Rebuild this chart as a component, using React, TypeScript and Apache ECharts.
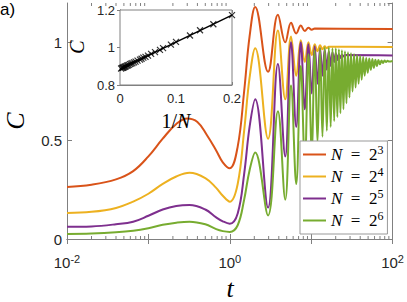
import React, { useEffect, useRef } from 'react';
import * as echarts from 'echarts';

// ---- main plot data: [t, C] ----
const seriesNames = ['N = 2^3', 'N = 2^4', 'N = 2^5', 'N = 2^6'];
const seriesExps = [3, 4, 5, 6];
const seriesColors = ['#D95319', '#EDB120', '#7E2F8E', '#77AC30'];

const dataN8 = [
  [0.01, 0.265], [0.02, 0.276], [0.04, 0.303], [0.065, 0.345], [0.1, 0.42], [0.15, 0.51], [0.22, 0.585],
  [0.3, 0.613], [0.4, 0.595], [0.52, 0.53], [0.68, 0.45], [0.82, 0.39], [1.0, 0.36], [1.25, 0.47], [1.5, 0.75],
  [1.75, 1.03], [2.05, 1.18], [2.95, 0.85], [3.9, 1.14], [4.8, 1.0], [5.65, 1.1], [6.55, 1.045],
  [7.45, 1.085], [8.35, 1.058], [9.25, 1.074], [10.15, 1.064], [11.05, 1.07], [100, 1.068],
];

const dataN16 = [
  [0.01, 0.132], [0.02, 0.138], [0.04, 0.158], [0.065, 0.19], [0.1, 0.23], [0.15, 0.28], [0.22, 0.318],
  [0.32, 0.337], [0.5, 0.31], [0.68, 0.26], [0.82, 0.22], [1.0, 0.19], [1.25, 0.28], [1.5, 0.55],
  [1.75, 0.82], [2.05, 0.97], [2.95, 0.51], [3.9, 1.06], [4.8, 0.71], [5.65, 1.03], [6.55, 0.83],
  [7.45, 1.01], [8.35, 0.9], [9.25, 1.0], [10.15, 0.935], [11.05, 0.99], [11.95, 0.955], [12.85, 0.985],
  [13.75, 0.965], [14.65, 0.98], [15.55, 0.97], [16.45, 0.978], [100, 0.976],
];

const dataN32 = [
  [0.01, 0.062], [0.02, 0.064], [0.04, 0.075], [0.065, 0.088], [0.1, 0.118], [0.15, 0.15], [0.22, 0.168],
  [0.32, 0.173], [0.5, 0.15], [0.68, 0.11], [0.82, 0.09], [1.0, 0.078], [1.25, 0.13], [1.5, 0.33],
  [1.75, 0.57], [2.05, 0.71], [2.95, 0.16], [3.9, 0.89], [4.8, 0.42], [5.65, 1.0], [6.55, 0.57],
  [7.45, 1.0], [8.35, 0.66], [9.25, 0.99], [10.15, 0.74], [11.05, 0.98], [11.95, 0.79], [12.85, 0.97],
  [13.75, 0.83], [14.65, 0.965], [15.55, 0.86], [16.45, 0.955], [17.35, 0.88], [18.25, 0.95],
  [19.15, 0.9], [20.05, 0.945], [20.95, 0.91], [21.9, 0.94], [22.85, 0.92], [23.85, 0.937],
  [24.9, 0.928], [26.0, 0.935], [100, 0.933],
];

const dataN64 = [
  [0.01, 0.026], [0.02, 0.028], [0.04, 0.034], [0.065, 0.042], [0.1, 0.055], [0.15, 0.072], [0.22, 0.083],
  [0.32, 0.088], [0.5, 0.075], [0.68, 0.05], [0.82, 0.04], [1.0, 0.036], [1.25, 0.07], [1.5, 0.2],
  [1.75, 0.35], [2.05, 0.44], [2.95, 0.12], [3.9, 0.65], [4.8, 0.2], [5.65, 0.78], [6.55, 0.28],
  [7.45, 0.88], [8.35, 0.38], [9.25, 0.94], [10.15, 0.45], [11.05, 0.96], [11.95, 0.49], [12.85, 0.97],
  [13.75, 0.52], [14.65, 0.975], [15.55, 0.55], [16.45, 0.975], [17.35, 0.57], [18.25, 0.97],
  [19.15, 0.6], [20.05, 0.97], [20.95, 0.62], [21.9, 0.965], [22.85, 0.64], [23.85, 0.96],
  [24.9, 0.66], [26.0, 0.955], [27.1, 0.69], [28.3, 0.95], [29.5, 0.72], [30.8, 0.945],
  [32.2, 0.75], [33.6, 0.94], [35.1, 0.77], [36.6, 0.935], [38.2, 0.79], [39.9, 0.93],
  [41.7, 0.81], [43.5, 0.925], [45.4, 0.83], [47.4, 0.92], [49.5, 0.845], [51.7, 0.918],
  [54.0, 0.86], [56.4, 0.915], [58.9, 0.87], [61.5, 0.912], [64.2, 0.88], [67.0, 0.91],
  [70.0, 0.888], [73.1, 0.908], [76.3, 0.895], [79.7, 0.907], [83.2, 0.9], [86.9, 0.906],
  [90.7, 0.902], [100, 0.905],
];

const seriesData = [dataN8, dataN16, dataN32, dataN64];

// minor tick positions of the log axis
const minorTickValues = [
  0.02, 0.03, 0.04, 0.05, 0.06, 0.07, 0.08, 0.09,
  0.2, 0.3, 0.4, 0.5, 0.6, 0.7, 0.8, 0.9,
  2, 3, 4, 5, 6, 7, 8, 9,
  20, 30, 40, 50, 60, 70, 80, 90,
];

// ---- inset data ----
const invN = [
  0.2, 0.1667, 0.1429, 0.125, 0.1, 0.0909, 0.0769, 0.0714, 0.0625, 0.0556, 0.05, 0.0455, 0.0417,
  0.0385, 0.0357, 0.0313, 0.0278, 0.025, 0.0222, 0.02, 0.0179, 0.0156, 0.0139, 0.0125, 0.0104,
  0.0089, 0.0078, 0.0063, 0.0052, 0.0039, 0.002,
];
const cInf = [
  1.173, 1.124, 1.092, 1.064, 1.03, 1.015, 0.997, 0.987, 0.975, 0.966, 0.957, 0.95, 0.946,
  0.94, 0.935, 0.93, 0.925, 0.921, 0.917, 0.914, 0.911, 0.907, 0.905, 0.903, 0.9,
  0.898, 0.896, 0.894, 0.892, 0.891, 0.888,
];
const fitX = [0, 0.2];
const fitC = [0.885, 1.173];

const AXIS = '#808080';
const LABEL = '#262626';
const SANS = 'Liberation Sans';
const SERIF = 'Liberation Serif';

export default function App() {
  const ref = useRef<HTMLDivElement>(null);
  useEffect(() => {
    if (!ref.current) return;
    const chart = echarts.init(ref.current, null, { renderer: 'svg' });
    const mainYMin = 0;
    const mainYMax = 1.2;

    const lineSeries = seriesData.map((d, i) => ({
      type: 'line',
      name: seriesNames[i],
      xAxisIndex: 0,
      yAxisIndex: 0,
      data: d,
      smooth: 0.4,
      symbol: 'none',
      lineStyle: { color: seriesColors[i], width: 2 },
      itemStyle: { color: seriesColors[i] },
      z: 2 + i,
    }));

    const option: any = {
      animation: false,
      backgroundColor: '#fff',
      graphic: [
        {
          type: 'text',
          left: 0,
          top: 1,
          style: { text: 'a)', fontFamily: SANS, fontSize: 17, fill: '#000' },
        },
        {
          type: 'text',
          x: 15,
          y: 121,
          rotation: Math.PI / 2,
          style: { text: 'C', fontFamily: SERIF, fontStyle: 'italic', fontSize: 26, fill: '#000', align: 'center', verticalAlign: 'middle' },
        },
        {
          type: 'text',
          x: 230,
          y: 288,
          style: { text: 't', fontFamily: SERIF, fontStyle: 'italic', fontSize: 26, fill: '#000', align: 'center', verticalAlign: 'middle' },
        },
        {
          type: 'text',
          x: 77,
          y: 47,
          rotation: Math.PI / 2,
          z: 20,
          style: { text: 'C', fontFamily: SERIF, fontStyle: 'italic', fontSize: 20, fill: '#000', align: 'center', verticalAlign: 'middle' },
        },
        {
          type: 'text',
          x: 176,
          y: 121,
          z: 20,
          style: {
            text: '{r|1/}{i|N}',
            align: 'center',
            verticalAlign: 'middle',
            rich: {
              r: { fontFamily: SERIF, fontSize: 20, fill: '#000', color: '#000' },
              i: { fontFamily: SERIF, fontStyle: 'italic', fontSize: 20, fill: '#000', color: '#000' },
            },
          },
        },
      ],
      grid: [
        { left: 67, top: 3, right: 14, bottom: 63 },
        { left: 120, top: 10, width: 112, height: 75, show: true, backgroundColor: '#fff', borderColor: AXIS, borderWidth: 1, z: 5 },
      ],
      legend: {
        data: seriesNames,
        orient: 'vertical',
        left: 300,
        top: 141,
        padding: [3, 4, 3, 3],
        itemGap: 1,
        itemWidth: 23,
        itemHeight: 2,
        icon: 'rect',
        backgroundColor: '#fff',
        borderColor: '#999',
        borderWidth: 1,
        borderRadius: 0,
        z: 10,
        formatter: (name: string) => {
          const i = seriesNames.indexOf(name);
          return `{i|N}{r|  =  2}{s|${seriesExps[i]}}`;
        },
        textStyle: {
          color: '#000',
          rich: {
            i: { fontFamily: SERIF, fontStyle: 'italic', fontSize: 17, lineHeight: 19, color: '#000' },
            r: { fontFamily: SERIF, fontSize: 17, lineHeight: 19, color: '#000' },
            s: { fontFamily: SERIF, fontSize: 12, lineHeight: 12, padding: [0, 0, 9, 0], color: '#000' },
          },
        },
      },
      xAxis: [
        {
          type: 'log',
          logBase: 10,
          gridIndex: 0,
          min: 0.01,
          max: 100,
          position: 'bottom',
          axisLine: { show: true, lineStyle: { color: AXIS, width: 1 } },
          axisTick: { show: true, inside: true, length: 5, lineStyle: { color: AXIS } },
          splitLine: { show: false },
          axisLabel: {
            interval: 0,
            margin: 16,
            color: LABEL,
            formatter: (val: number) => {
              const e = Math.round(Math.log10(val));
              if (e % 2 !== 0) return '';
              return `{b|10}{s|${e}}`;
            },
            rich: {
              b: { fontFamily: SANS, fontSize: 15, lineHeight: 15, color: LABEL },
              s: { fontFamily: SANS, fontSize: 11, lineHeight: 10, padding: [0, 0, 7, 0], color: LABEL },
            },
          },
        },
        {
          type: 'log',
          logBase: 10,
          gridIndex: 0,
          min: 0.01,
          max: 100,
          position: 'top',
          axisLine: { show: true, lineStyle: { color: AXIS, width: 1 } },
          axisTick: { show: true, inside: true, length: 5, lineStyle: { color: AXIS } },
          axisLabel: { show: false },
          splitLine: { show: false },
        },
        {
          type: 'value',
          gridIndex: 1,
          min: 0,
          max: 0.2,
          interval: 0.1,
          position: 'bottom',
          axisLine: { show: true, lineStyle: { color: AXIS } },
          axisTick: { show: true, inside: true, length: 3, lineStyle: { color: AXIS } },
          axisLabel: { margin: 7, color: LABEL, fontFamily: SANS, fontSize: 13 },
          splitLine: { show: false },
        },
        {
          type: 'value',
          gridIndex: 1,
          min: 0,
          max: 0.2,
          interval: 0.1,
          position: 'top',
          axisLine: { show: true, lineStyle: { color: AXIS } },
          axisTick: { show: true, inside: true, length: 3, lineStyle: { color: AXIS } },
          axisLabel: { show: false },
          splitLine: { show: false },
        },
      ],
      yAxis: [
        {
          type: 'value',
          gridIndex: 0,
          min: mainYMin,
          max: mainYMax,
          interval: 0.5,
          position: 'left',
          axisLine: { show: true, lineStyle: { color: AXIS } },
          axisTick: { show: true, inside: true, length: 5, lineStyle: { color: AXIS } },
          axisLabel: { margin: 5, color: LABEL, fontFamily: SANS, fontSize: 15, showMaxLabel: false },
          splitLine: { show: false },
        },
        {
          type: 'value',
          gridIndex: 0,
          min: mainYMin,
          max: mainYMax,
          interval: 0.5,
          position: 'right',
          axisLine: { show: true, lineStyle: { color: AXIS } },
          axisTick: { show: true, inside: true, length: 5, lineStyle: { color: AXIS } },
          axisLabel: { show: false },
          splitLine: { show: false },
        },
        {
          type: 'value',
          gridIndex: 1,
          min: 0.8,
          max: 1.2,
          interval: 0.2,
          position: 'left',
          axisLine: { show: true, lineStyle: { color: AXIS } },
          axisTick: { show: true, inside: true, length: 3, lineStyle: { color: AXIS } },
          axisLabel: { margin: 5, color: LABEL, fontFamily: SANS, fontSize: 13 },
          splitLine: { show: false },
        },
        {
          type: 'value',
          gridIndex: 1,
          min: 0.8,
          max: 1.2,
          interval: 0.2,
          position: 'right',
          axisLine: { show: true, lineStyle: { color: AXIS } },
          axisTick: { show: true, inside: true, length: 3, lineStyle: { color: AXIS } },
          axisLabel: { show: false },
          splitLine: { show: false },
        },
      ],
      series: [
        ...lineSeries,
        {
          type: 'custom',
          name: 'minorTicks',
          xAxisIndex: 0,
          yAxisIndex: 0,
          silent: true,
          clip: false,
          z: 1,
          data: minorTickValues.map((v) => [v, mainYMin]),
          renderItem: (_params: any, api: any) => {
            const v = api.value(0);
            const b = api.coord([v, mainYMin]);
            const t = api.coord([v, mainYMax]);
            return {
              type: 'group',
              children: [
                { type: 'line', shape: { x1: b[0], y1: b[1], x2: b[0], y2: b[1] - 3 }, style: { stroke: AXIS, lineWidth: 1 } },
                { type: 'line', shape: { x1: t[0], y1: t[1], x2: t[0], y2: t[1] + 3 }, style: { stroke: AXIS, lineWidth: 1 } },
              ],
            };
          },
        },
        {
          type: 'line',
          name: 'fit',
          xAxisIndex: 2,
          yAxisIndex: 2,
          data: fitX.map((x, i) => [x, fitC[i]]),
          symbol: 'none',
          lineStyle: { color: '#000', width: 1.5 },
          z: 6,
        },
        {
          type: 'scatter',
          name: 'inset',
          xAxisIndex: 2,
          yAxisIndex: 2,
          data: invN.map((x, i) => [x, cInf[i]]),
          symbol: 'path://M0,0L10,10M10,0L0,10',
          symbolSize: 6,
          itemStyle: { color: 'none', borderColor: '#000', borderWidth: 1.2 },
          z: 7,
        },
      ],
    };
    chart.setOption(option);
    return () => chart.dispose();
  }, []);
  return (
    <div
      ref={ref}
      style={{ position: 'fixed', left: 0, top: 0, width: 407, height: 302, background: '#fff' }}
    />
  );
}
